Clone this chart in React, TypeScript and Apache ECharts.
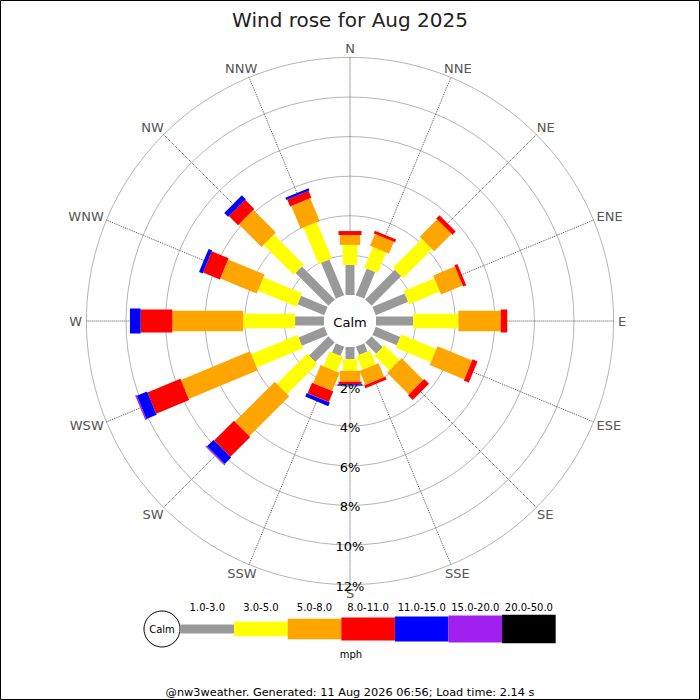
import React, { useEffect, useRef } from 'react';
import * as echarts from 'echarts';

const title = 'Wind rose for Aug 2025';
const footer = '@nw3weather. Generated: 11 Aug 2026 06:56; Load time: 2.14 s';
const unitLabel = 'mph';
const calmLabel = 'Calm';

const directions = ['N', 'NNE', 'NE', 'ENE', 'E', 'ESE', 'SE', 'SSE', 'S', 'SSW', 'SW', 'WSW', 'W', 'WNW', 'NW', 'NNW'];
const speedClasses = ['1.0-3.0', '3.0-5.0', '5.0-8.0', '8.0-11.0', '11.0-15.0', '15.0-20.0', '20.0-50.0'];
const classColors = ['#999999', '#ffff00', '#ffa500', '#ff0000', '#0000ff', '#a020f0', '#000000'];
const classWidths = [9, 14.5, 20.5, 23, 25, 27, 28.5];

// percent frequency per speed class, per direction (N clockwise)
const speed1to3 = [1.52, 1.46, 2.12, 1.77, 1.88, 1.34, 0.79, 0.45, 0.62, 0.51, 1.39, 1.41, 1.46, 1.46, 2.35, 1.96];
const speed3to5 = [1.01, 1.12, 2.07, 1.68, 2.28, 1.92, 1.07, 0.76, 0.58, 0.8, 2.15, 2.53, 2.62, 2.11, 2.14, 1.98];
const speed5to8 = [0.5, 0.65, 1.24, 1.18, 2.14, 1.89, 1.55, 0.76, 0.55, 0.99, 2.85, 3.78, 3.58, 1.99, 1.61, 1.24];
const speed8to11 = [0.2, 0.15, 0.23, 0.17, 0.33, 0.27, 0.34, 0.15, 0.13, 0.58, 1.42, 1.8, 1.6, 0.92, 0.66, 0.38];
const speed11to15 = [0, 0, 0, 0, 0, 0, 0, 0, 0.07, 0.2, 0.46, 0.56, 0.54, 0.2, 0.28, 0.12];
const speed15to20 = [0, 0, 0, 0, 0, 0, 0, 0, 0, 0, 0.06, 0.07, 0, 0, 0, 0];
const speed20to50 = [0, 0, 0, 0, 0, 0, 0, 0, 0, 0, 0, 0, 0, 0, 0, 0];

const radialTicks = [2, 4, 6, 8, 10, 12];
const radialMax = 12;
const directionLabelBase = 12.22;

const classSeries = [speed1to3, speed3to5, speed5to8, speed8to11, speed11to15, speed15to20, speed20to50];

const FONT = 'DejaVu Sans';
const DIR_FONT = `13px "${FONT}"`;

function measure(text: string, font: string): number {
  try {
    const ctx = document.createElement('canvas').getContext('2d');
    if (ctx) {
      ctx.font = font;
      return ctx.measureText(text).width;
    }
  } catch (e) {
    /* ignore */
  }
  return text.length * 8;
}

function buildOption() {
  const step = 360 / directions.length;
  const barData: number[][] = [];
  directions.forEach((_d, i) => {
    let cum = 0;
    classSeries.forEach((arr, k) => {
      const v = arr[i];
      if (v > 0) barData.push([cum, cum + v, i * step, k]);
      cum += v;
    });
  });
  const dirLabelData = directions.map((_d, i) => [directionLabelBase, i * step]);
  const dirWidths = directions.map((d) => measure(d, DIR_FONT));
  const tickLabelData = radialTicks.map((v) => [v, 180]);

  const legendX0 = 180.5;
  const legendW = 53.6;
  const legendY = 629;

  const legendGraphics: any[] = [];
  legendGraphics.push({
    type: 'circle',
    shape: { cx: 162, cy: legendY, r: 18 },
    style: { fill: '#fff', stroke: '#000', lineWidth: 1 },
    z: 10,
  });
  legendGraphics.push({
    type: 'text',
    x: 162,
    y: legendY,
    style: { text: calmLabel, fill: '#000', font: `10px "${FONT}"`, align: 'center', verticalAlign: 'middle' },
    z: 11,
  });
  speedClasses.forEach((label, k) => {
    const h = classWidths[k];
    legendGraphics.push({
      type: 'rect',
      shape: { x: legendX0 + k * legendW, y: legendY - h / 2, width: legendW, height: h },
      style: { fill: classColors[k] },
      z: 10,
    });
    legendGraphics.push({
      type: 'text',
      x: legendX0 + k * legendW + legendW / 2,
      y: 607,
      style: { text: label, fill: '#000', font: `10px "${FONT}"`, align: 'center', verticalAlign: 'middle' },
      z: 11,
    });
  });
  legendGraphics.push({
    type: 'text',
    x: 351,
    y: 654,
    style: { text: unitLabel, fill: '#000', font: `10px "${FONT}"`, align: 'center', verticalAlign: 'middle' },
    z: 11,
  });
  legendGraphics.push({
    type: 'text',
    x: 350,
    y: 692,
    style: { text: footer, fill: '#000', font: `11.3px "${FONT}"`, align: 'center', verticalAlign: 'middle' },
    z: 11,
  });
  legendGraphics.push({
    type: 'rect',
    shape: { x: 0.5, y: 0.5, width: 699, height: 699 },
    style: { fill: 'none', stroke: '#000', lineWidth: 1 },
    z: 20,
  });

  return {
    animation: false,
    backgroundColor: '#fff',
    textStyle: { fontFamily: FONT },
    title: {
      text: title,
      left: 'center',
      top: 5,
      textStyle: { fontSize: 20, fontWeight: 'normal', color: '#222', fontFamily: FONT },
    },
    polar: { center: [350, 321], radius: [26, 263.6] },
    angleAxis: {
      type: 'value',
      min: 0,
      max: 360,
      interval: 22.5,
      startAngle: 90,
      clockwise: true,
      axisLine: { show: false },
      axisTick: { show: false },
      axisLabel: { show: false },
      splitLine: { show: true, lineStyle: { color: '#555', type: 'dotted', width: 1 } },
    },
    radiusAxis: {
      type: 'value',
      min: 0,
      max: radialMax,
      interval: 2,
      axisLine: { show: false },
      axisTick: { show: false },
      axisLabel: { show: false },
      splitLine: {
        show: true,
        lineStyle: {
          color: ['rgba(0,0,0,0)', '#b4b4b4', '#b4b4b4', '#b4b4b4', '#b4b4b4', '#b4b4b4', '#b4b4b4'],
          width: 1,
        },
      },
    },
    graphic: legendGraphics,
    series: [
      {
        type: 'custom',
        name: 'bars',
        coordinateSystem: 'polar',
        dimensions: ['r0', 'r1', 'ang', 'cls'],
        encode: { radius: [0, 1], angle: 2 },
        data: barData,
        z: 3,
        renderItem: (_params: any, api: any) => {
          const r0 = api.value(0);
          const r1 = api.value(1);
          const ang = api.value(2);
          const k = api.value(3);
          const c0 = api.coord([0, ang]);
          const c1 = api.coord([radialMax, ang]);
          const dx = c1[0] - c0[0];
          const dy = c1[1] - c0[1];
          const len = Math.sqrt(dx * dx + dy * dy) || 1;
          const ux = dx / len;
          const uy = dy / len;
          const nx = -uy;
          const ny = ux;
          const hw = classWidths[k] / 2;
          const p0 = api.coord([r0, ang]);
          const p1 = api.coord([r1, ang]);
          return {
            type: 'polygon',
            shape: {
              points: [
                [p0[0] + nx * hw, p0[1] + ny * hw],
                [p1[0] + nx * hw, p1[1] + ny * hw],
                [p1[0] - nx * hw, p1[1] - ny * hw],
                [p0[0] - nx * hw, p0[1] - ny * hw],
              ],
            },
            style: { fill: classColors[k] },
          };
        },
      },
      {
        type: 'custom',
        name: 'calm',
        coordinateSystem: 'polar',
        data: [[0, 0]],
        z: 5,
        renderItem: (_params: any, api: any) => {
          const a = api.coord([0, 0]);
          const b = api.coord([0, 180]);
          const cx = (a[0] + b[0]) / 2;
          const cy = (a[1] + b[1]) / 2;
          const r = Math.sqrt((a[0] - b[0]) ** 2 + (a[1] - b[1]) ** 2) / 2;
          return {
            type: 'group',
            children: [
              { type: 'circle', shape: { cx, cy, r }, style: { fill: '#fff' } },
              {
                type: 'text',
                x: cx,
                y: cy + 1,
                style: { text: calmLabel, fill: '#000', font: `13px "${FONT}"`, align: 'center', verticalAlign: 'middle' },
              },
            ],
          };
        },
      },
      {
        type: 'custom',
        name: 'directionLabels',
        coordinateSystem: 'polar',
        data: dirLabelData,
        z: 6,
        renderItem: (params: any, api: any) => {
          const ang = api.value(1);
          const p = api.coord([api.value(0), ang]);
          const c0 = api.coord([0, ang]);
          const c1 = api.coord([radialMax, ang]);
          const dx = c1[0] - c0[0];
          const dy = c1[1] - c0[1];
          const len = Math.sqrt(dx * dx + dy * dy) || 1;
          const ux = dx / len;
          const uy = dy / len;
          const w = dirWidths[params.dataIndex];
          return {
            type: 'text',
            x: p[0] + ux * (w / 2),
            y: p[1] + uy * 5,
            style: {
              text: directions[params.dataIndex],
              fill: '#555',
              font: DIR_FONT,
              align: 'center',
              verticalAlign: 'middle',
            },
          };
        },
      },
      {
        type: 'custom',
        name: 'radialLabels',
        coordinateSystem: 'polar',
        data: tickLabelData,
        z: 7,
        renderItem: (params: any, api: any) => {
          const p = api.coord([api.value(0), api.value(1)]);
          return {
            type: 'text',
            x: p[0],
            y: p[1] + 1.5,
            style: {
              text: `${radialTicks[params.dataIndex]}%`,
              fill: '#000',
              font: `13px "${FONT}"`,
              align: 'center',
              verticalAlign: 'middle',
            },
          };
        },
      },
    ],
  };
}

export default function App() {
  const ref = useRef<HTMLDivElement>(null);
  useEffect(() => {
    if (!ref.current) return;
    const chart = echarts.init(ref.current, undefined, { renderer: 'svg' });
    chart.setOption(buildOption() as any);
    return () => chart.dispose();
  }, []);
  return <div ref={ref} style={{ position: 'fixed', left: 0, top: 0, width: 700, height: 700 }} />;
}
